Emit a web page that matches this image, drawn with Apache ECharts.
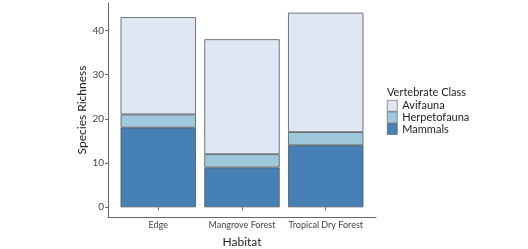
<!DOCTYPE html>
<html>
<head>
<meta charset="utf-8">
<script src="https://cdn.jsdelivr.net/npm/echarts@6/dist/echarts.min.js"></script>
<style>
  html, body { margin: 0; padding: 0; background: #fff; }
  #chart { width: 528px; height: 249px; }
</style>
</head>
<body>
<div id="chart"></div>
<script>
// data
const habitats = ['Edge', 'Mangrove Forest', 'Tropical Dry Forest'];
const mammals = [18, 9, 14];
const herpetofauna = [3, 3, 3];
const avifauna = [22, 26, 27];
const yTicks = [0, 10, 20, 30, 40];

const font = 'Lato';
const border = { borderColor: '#555', borderWidth: 0.8 };

const chart = echarts.init(document.getElementById('chart'));

const option = {
  animation: false,
  textStyle: { fontFamily: font },
  title: {
    text: 'Vertebrate Class',
    left: 387, top: 87,
    padding: 0,
    textStyle: { fontSize: 11, fontWeight: 'normal', color: '#222', fontFamily: font }
  },
  legend: {
    data: ['Avifauna', 'Herpetofauna', 'Mammals'],
    orient: 'vertical',
    left: 387, top: 100,
    itemWidth: 10, itemHeight: 11, itemGap: 0,
    padding: 0,
    icon: 'rect',
    itemStyle: { borderWidth: 0.6 },
    textStyle: { fontSize: 11, color: '#222', lineHeight: 11, fontFamily: font }
  },
  grid: [
    // bars (ggplot leaves 0.6 of a band outside the outer bars)
    { left: 116.4, right: 160.4, top: 3, bottom: 32, outerBoundsMode: 'none' },
    // wider grid carrying only the x axis line
    { left: 108, right: 152, top: 3, bottom: 32, outerBoundsMode: 'none' }
  ],
  xAxis: [
    {
      gridIndex: 0, type: 'category', data: habitats,
      axisLine: { show: false },
      axisTick: { show: true, alignWithLabel: true, length: 3, lineStyle: { color: '#666' } },
      axisLabel: { fontSize: 9, color: '#444', margin: 4, interval: 0 },
      name: 'Habitat', nameLocation: 'middle', nameGap: 19,
      nameTextStyle: { fontSize: 12, color: '#222' }
    },
    {
      gridIndex: 1, type: 'value', min: 0, max: 1,
      axisLine: { show: true, onZero: false, lineStyle: { color: '#666', width: 1 } },
      axisTick: { show: false }, axisLabel: { show: false }, splitLine: { show: false }
    }
  ],
  yAxis: [
    {
      gridIndex: 0, type: 'value', min: -2.2, max: 46.2, offset: 8.4,
      axisLine: { show: true, onZero: false, lineStyle: { color: '#666', width: 1 } },
      axisTick: { show: true, length: 3, customValues: yTicks, lineStyle: { color: '#666' } },
      axisLabel: { fontSize: 10, color: '#444', margin: 4, customValues: yTicks },
      splitLine: { show: false },
      name: 'Species Richness', nameLocation: 'middle', nameGap: 19,
      nameTextStyle: { fontSize: 12, color: '#222' }
    },
    {
      gridIndex: 1, type: 'value', min: 0, max: 1, show: false
    }
  ],
  series: [
    {
      name: 'Mammals', type: 'bar', stack: 'all', data: mammals, barWidth: '90%',
      itemStyle: Object.assign({ color: '#4680b4' }, border)
    },
    {
      name: 'Herpetofauna', type: 'bar', stack: 'all', data: herpetofauna, barWidth: '90%',
      itemStyle: Object.assign({ color: '#a0c8dd' }, border)
    },
    {
      name: 'Avifauna', type: 'bar', stack: 'all', data: avifauna, barWidth: '90%',
      itemStyle: Object.assign({ color: '#dee7f3' }, border)
    }
  ]
};

chart.setOption(option);
</script>
</body>
</html>
